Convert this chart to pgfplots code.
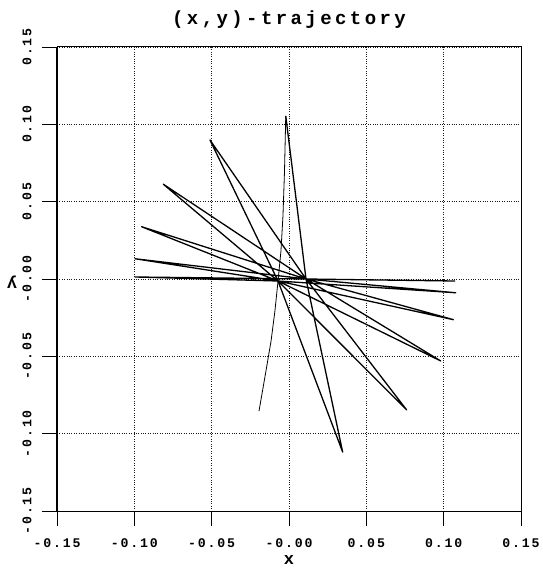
\documentclass[border=0pt]{standalone}
\usepackage{fontspec}
\usepackage{pgfplots}
\pgfplotsset{compat=1.18}
\newfontfamily\monoT[LetterSpace=18]{Liberation Mono}
\newfontfamily\monoK[LetterSpace=14]{Liberation Mono}
\newcommand\titlefont{\monoT\bfseries\fontsize{19bp}{21bp}\selectfont}
\newcommand\tickfont{\monoK\bfseries\fontsize{13.2bp}{15bp}\selectfont}
\newcommand\labfont{\monoK\bfseries\fontsize{17bp}{19bp}\selectfont}
\begin{document}
\begin{tikzpicture}
\begin{axis}[
  name=ax, at={(0,0)}, anchor=south west,
  scale only axis, width=464bp, height=464bp,
  xmin=-0.15, xmax=0.15, ymin=-0.15, ymax=0.15,
  xtick={-0.15,-0.10,-0.05,0,0.05,0.10,0.15},
  xticklabels={-0.15,-0.10,-0.05,-0.00,0.05,0.10,0.15},
  ytick={-0.15,-0.10,-0.05,0,0.05,0.10,0.15},
  yticklabels={-0.15,-0.10,-0.05,-0.00,0.05,0.10,0.15},
  xtick pos=bottom, ytick pos=left, tick align=outside,
  major tick length=15bp,
  tick style={black, line width=0.8bp},
  grid=major,
  grid style={black!90, dotted, line width=0.7bp},
  axis line style={black, line width=1bp},
  xticklabel style={font=\tickfont, anchor=center, inner sep=0pt, yshift=-17bp},
  yticklabel style={font=\tickfont, xshift=-15bp, rotate=90, anchor=center, inner sep=0pt},
  title={(x,y)-trajectory},
  title style={font=\titlefont, at={(axis description cs:0.5,1.047)}, anchor=center, yshift=0pt, inner sep=0pt},
  xlabel={x},
  xlabel style={font=\labfont, at={(axis description cs:0.5,-0.106)}, anchor=center, inner sep=0pt},
  ylabel={y},
  ylabel style={font=\labfont, at={(axis description cs:-0.097,0.494)}, anchor=center, rotate=0, inner sep=0pt},
  every axis y label/.append style={rotate=90},
]
% thin starting curve
\addplot[black, line width=0.8bp] coordinates {
(-0.0194,-0.0854) (-0.0149,-0.0595) (-0.0116,-0.0401) (-0.0091,-0.0207)
(-0.0071,-0.0013) (-0.0052,0.0181) (-0.0039,0.0408) (-0.0029,0.0699) (-0.0021,0.1054)
};
% main trajectory
\addplot[black, line width=1.3bp, line join=round] coordinates {
(-0.0021,0.1054) (0.0110,0.0000) (0.0347,-0.1119)
(-0.0071,-0.0013) (-0.0511,0.0899)
(0.0110,0.0000) (0.0761,-0.0847)
(-0.0071,-0.0013) (-0.0813,0.0613)
(0.0110,0.0000) (0.0981,-0.0530)
(-0.0071,-0.0013) (-0.0953,0.0338)
(0.0110,0.0000) (0.1063,-0.0263)
(-0.0071,-0.0013) (-0.0996,0.0131)
(0.0110,0.0000) (0.1078,-0.0089)
(-0.0071,-0.0013) (-0.0996,0.0013)
(0.0110,0.0000) (0.1074,-0.0013)
};
\end{axis}
\draw[black, line width=2bp] (0,0) -- (0,464bp);
\pgfresetboundingbox
\path[use as bounding box] (-57bp,-58bp) rectangle (486bp,511bp);
\end{tikzpicture}
\end{document}
